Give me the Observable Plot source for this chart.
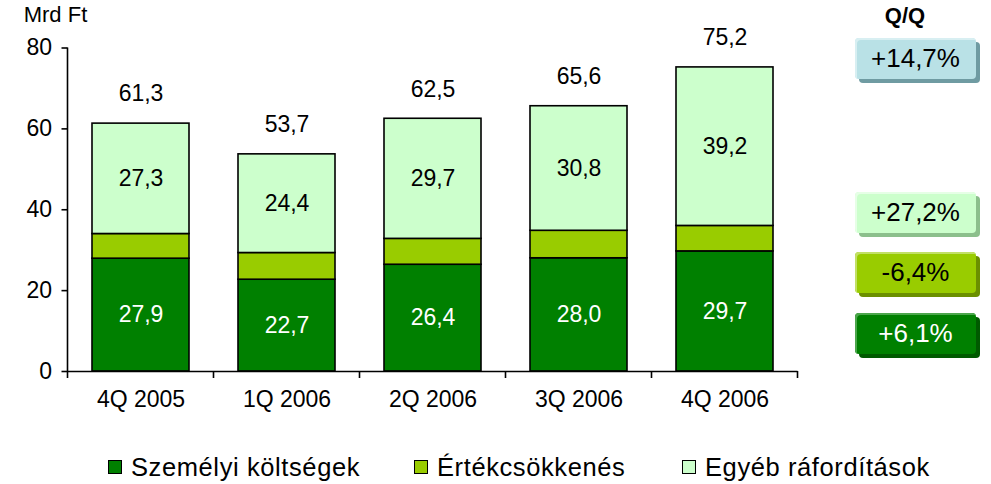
<!DOCTYPE html>
<html>
<head>
<meta charset="utf-8">
<script src="https://cdn.jsdelivr.net/npm/d3@7"></script>
<script src="https://cdn.jsdelivr.net/npm/@observablehq/plot@0.6"></script>
<style>
  body { margin: 0; background: white; }
  #wrap { position: relative; width: 991px; height: 484px; overflow: hidden; font-family: "Liberation Sans", Arial, sans-serif; color: black; }
  #wrap svg { display: block; }
  .legend-item { position: absolute; top: 452px; display: flex; align-items: center; font-size: 25.5px; letter-spacing: 0.6px; line-height: 30px; white-space: nowrap; }
  .legend-item .sw { width: 12px; height: 12px; border: 1.5px solid black; margin-right: 9px; }
  .qq-title { position: absolute; left: 905px; top: 3px; transform: translateX(-50%); font-weight: bold; font-size: 22px; line-height: 26px; }
  .qq-box { position: absolute; left: 855px; width: 121px; height: 41px; border-radius: 4px; font-size: 26px; line-height: 41px; text-align: center; }
</style>
</head>
<body>
<div id="wrap"></div>
<script>
// ---- data ----
const quarters = ["4Q 2005", "1Q 2006", "2Q 2006", "3Q 2006", "4Q 2006"];
const seriesNames = ["Személyi költségek", "Értékcsökkenés", "Egyéb ráfordítások"];
const seriesColors = ["#008000", "#99cc00", "#ccffcc"];
const szemelyi = [27.9, 22.7, 26.4, 28.0, 29.7];
const ertekcsokkenes = [6.1, 6.6, 6.4, 6.8, 6.3];
const egyeb = [27.3, 24.4, 29.7, 30.8, 39.2];
const osszesen = [61.3, 53.7, 62.5, 65.6, 75.2];
const yTicks = [0, 20, 40, 60, 80];
const yLabel = "Mrd Ft";
const qqTitle = "Q/Q";
const qqLabels = ["+14,7%", "+27,2%", "-6,4%", "+6,1%"];

// ---- table ----
const seriesValues = [szemelyi, ertekcsokkenes, egyeb];
const table = quarters.flatMap((q, i) => seriesNames.map((s, j) => ({q, s, v: seriesValues[j][i]})));
const totals = quarters.map((q, i) => ({q, t: osszesen[i]}));
const fmt = v => d3.format(".1f")(v).replace(".", ",");

const chart = Plot.plot({
  width: 991,
  height: 484,
  marginLeft: 67.5,
  marginRight: 193.5,
  marginTop: 47.5,
  marginBottom: 113,
  style: {fontFamily: "'Liberation Sans', Arial, sans-serif", fontSize: "23px", color: "black", background: "white", overflow: "visible"},
  x: {domain: quarters, paddingInner: 0.336, paddingOuter: 0.168, label: null, tickSize: 0, tickPadding: 19},
  y: {domain: [0, 80], ticks: yTicks, label: null, tickSize: 6, tickPadding: 10},
  color: {domain: seriesNames, range: seriesColors},
  marks: [
    Plot.barY(table, {x: "q", y: "v", fill: "s", stroke: "black", strokeWidth: 1.6}),
    Plot.text(table, Plot.stackY({x: "q", y: "v", z: "s", text: d => d.s === seriesNames[0] ? fmt(d.v) : "", fill: "white"})),
    Plot.text(table, Plot.stackY({x: "q", y: "v", z: "s", text: d => d.s === seriesNames[2] ? fmt(d.v) : "", fill: "black"})),
    Plot.text(totals, {x: "q", y: "t", text: d => fmt(d.t), dy: -29.5, fill: "black"}),
    Plot.ruleY([0], {stroke: "black", strokeWidth: 1.6})
  ]
});

// extra axis lines via the plot's own scales
const sx = chart.scale("x"), sy = chart.scale("y");
const svg = d3.select(chart);
const bw = sx.bandwidth;
const step = sx.step || bw / (1 - 0.336);
const bounds = quarters.map(q => sx.apply(q) - (step - bw) / 2);
bounds.push(sx.apply(quarters[quarters.length - 1]) + bw + (step - bw) / 2);
const g = svg.append("g").attr("stroke", "black").attr("stroke-width", 1.6);
g.append("line")
  .attr("x1", bounds[0]).attr("x2", bounds[0])
  .attr("y1", sy.apply(0)).attr("y2", sy.apply(80));
g.selectAll("line.sep").data(bounds).join("line").attr("class", "sep")
  .attr("x1", d => d).attr("x2", d => d)
  .attr("y1", sy.apply(0)).attr("y2", sy.apply(0) + 7);
svg.selectAll("g[aria-label='y-axis tick'] path, g[aria-label='y-axis tick'] line").attr("stroke-width", 1.6);
svg.append("text")
  .attr("x", bounds[0] - 12).attr("y", 16)
  .attr("text-anchor", "middle").attr("dominant-baseline", "middle")
  .attr("font-size", 22).text(yLabel);

const wrap = document.getElementById("wrap");
wrap.appendChild(chart);

// legend
const legendLefts = [108, 414, 682];
seriesNames.forEach((s, i) => {
  const item = document.createElement("div");
  item.className = "legend-item";
  item.style.left = legendLefts[i] + "px";
  const sw = document.createElement("span");
  sw.className = "sw";
  sw.style.background = seriesColors[i];
  const t = document.createElement("span");
  t.textContent = s;
  item.appendChild(sw); item.appendChild(t);
  wrap.appendChild(item);
});

// Q/Q boxes
const qt = document.createElement("div");
qt.className = "qq-title"; qt.textContent = qqTitle;
wrap.appendChild(qt);
const qqTops = [38, 192, 252, 313];
const qqFill = ["#b9e1e6", "#ccffcc", "#99cc00", "#008000"];
const qqShadow = ["#6f9ba2", "#8cbf8c", "#6b8f00", "#005a00"];
const qqHi = ["#d8eff2", "#e6ffe6", "#c2e066", "#4ca64c"];
const qqText = ["black", "black", "black", "white"];
qqLabels.forEach((lab, i) => {
  const b = document.createElement("div");
  b.className = "qq-box";
  b.style.top = qqTops[i] + "px";
  b.style.background = qqFill[i];
  b.style.color = qqText[i];
  b.style.boxShadow = `4px 4px 0 ${qqShadow[i]}, inset 2px 2px 0 ${qqHi[i]}`;
  b.textContent = lab;
  wrap.appendChild(b);
});
</script>
</body>
</html>
